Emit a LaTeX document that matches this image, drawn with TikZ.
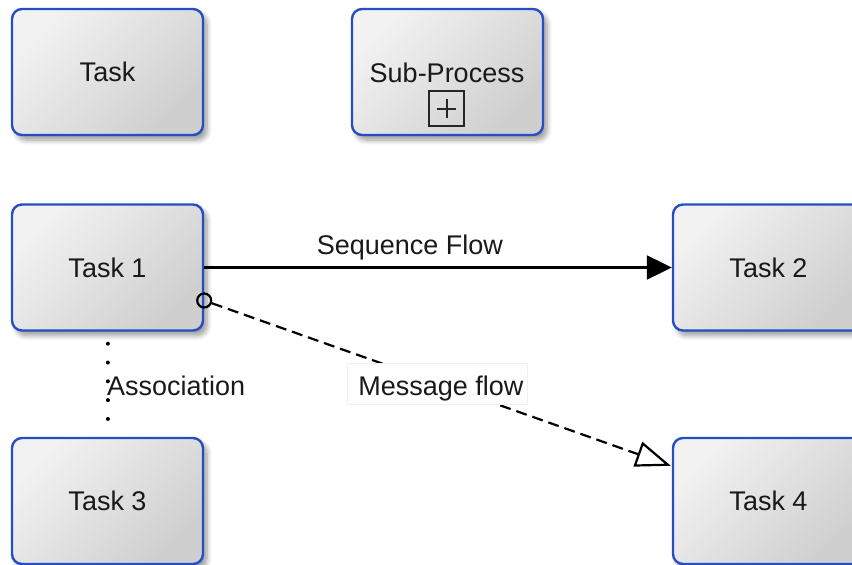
\documentclass[tikz,border=0pt]{standalone}
\usepackage{fontspec}
\setmainfont{Liberation Sans}
\usetikzlibrary{arrows.meta,shadows.blur,calc}
\definecolor{bpmnblue}{RGB}{38,78,196}
\definecolor{txt}{RGB}{25,25,25}
\tikzset{
  taskbox/.style={rectangle, rounded corners=10pt, draw=bpmnblue, line width=2.4pt,
    minimum width=191pt, minimum height=126pt, inner sep=0pt,
    top color=white!95!black, bottom color=black!19, shading angle=45,
    blur shadow={shadow xshift=4pt, shadow yshift=-5pt, shadow blur steps=8, shadow blur radius=5pt, shadow opacity=40},
    font=\fontsize{27}{31}\selectfont, text=txt},
  lbl/.style={font=\fontsize{27}{31}\selectfont, text=txt, inner sep=2pt},
  msgbox/.style={fill=white, draw=black!6, line width=0.6pt, minimum width=180pt, minimum height=41pt, inner sep=0pt},
  seqflow/.style={line width=2.2pt, -{Triangle[length=25pt,width=24pt]}},
  msgflow/.style={line width=2.2pt, dash pattern=on 11pt off 6pt, -{Triangle[open,length=35pt,width=26pt,line width=2.2pt]}},
  assoc/.style={line width=4pt, line cap=round, dash pattern=on 0.01pt off 18.8pt},
  markbox/.style={rectangle, draw=black!85, line width=1.8pt, minimum size=35pt, inner sep=0pt}
}
\begin{document}
\begin{tikzpicture}[x=1pt,y=-1pt]
\useasboundingbox (0,0) rectangle (852,565);
\clip (0,0) rectangle (852,565);
\node[taskbox] (task) at (107.5,72) {Task};
\node[taskbox] (sub) at (447.5,72) {};
\node[lbl] (subtxt) at (447,73) {Sub-Process};
\node[markbox] (plus) at (446.5,108.5) {};
\draw[line width=2pt, black!85] ($(plus.west)+(8.5,0)$) -- ($(plus.east)+(-8.5,0)$)
  ($(plus.north)+(0,8.5)$) -- ($(plus.south)+(0,-8.5)$);
\node[taskbox] (t1) at (107.5,267.5) {Task 1};
\node[taskbox] (t2) at (768.5,267.5) {Task 2};
\node[taskbox] (t3) at (107.5,501) {Task 3};
\node[taskbox] (t4) at (768.5,501) {Task 4};
% sequence flow
\draw[seqflow] (t1.east) -- node[lbl, pos=0.44, yshift=20pt] {Sequence Flow} (t2.west);
% message flow
\node[circle, draw=black, line width=2.2pt, minimum size=14pt, inner sep=0pt] (mc) at ($(t1.east)+(0,33)$) {};
\coordinate (mend) at ($(t4.north west)+(-1,29)$);
\draw[msgflow] (mc) -- (mend);
\node[msgbox] (msgbg) at (437,383.5) {};
\node[lbl] (msgtxt) at (441,389) {Message flow};
% association
\draw[assoc] ($(t1.south)+(0,12)$) -- ($(t3.north)+(0,-1)$);
\node[lbl, anchor=west, inner sep=0pt] (assoclbl) at (107,386) {Association};
\end{tikzpicture}
\end{document}
